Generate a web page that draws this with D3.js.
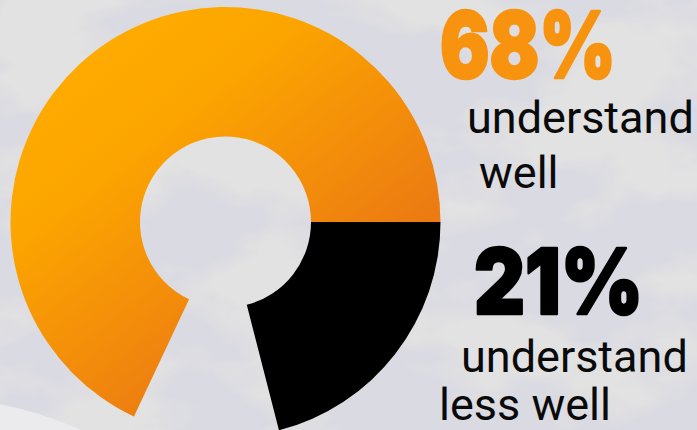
<!DOCTYPE html>
<html>
<head>
<meta charset="utf-8">
<script src="https://cdn.jsdelivr.net/npm/d3@7"></script>
<style>
  html, body { margin: 0; padding: 0; background: #dcdce2; }
  svg { display: block; }
</style>
</head>
<body>
<svg id="chart" width="697" height="430"></svg>
<script>
// Share of respondents by how well they understand the topic
const categories = ["understand less well", "no answer", "understand well"];
const shares = [21, 11, 68];
const labels = ["68%", "21%"];
const captions = [["understand", "well"], ["understand", "less well"]];

const W = 697, H = 430;
const svg = d3.select("#chart");
const defs = svg.append("defs");

// concrete-like backdrop: soft grey blotches from fractal noise
const tex = defs.append("filter").attr("id", "concrete")
  .attr("filterUnits", "userSpaceOnUse")
  .attr("x", 0).attr("y", 0).attr("width", W).attr("height", H);
tex.append("feTurbulence").attr("type", "fractalNoise")
  .attr("baseFrequency", "0.006 0.010").attr("numOctaves", 5).attr("seed", 11).attr("result", "n");
tex.append("feColorMatrix").attr("in", "n").attr("type", "matrix")
  .attr("values", "0 0 0 0 0.76  0 0 0 0 0.76  0 0 0 0 0.76  6 0 0 0 -2.75");

svg.append("rect").attr("width", W).attr("height", H).attr("fill", "#dadae2");
svg.append("rect").attr("width", W).attr("height", H).attr("fill", "#000")
  .attr("filter", "url(#concrete)");
// pale disc in the lower-left corner
svg.append("circle").attr("cx", -66).attr("cy", 750).attr("r", 352)
  .attr("fill", "#ebebee");

// orange gradient across the ring (coordinates in the ring's local frame)
const cx = 225.5, cy = 222, rOuter = 215, rInner = 85.5;
const grad = defs.append("linearGradient").attr("id", "orangeGrad")
  .attr("gradientUnits", "userSpaceOnUse")
  .attr("x1", 40 - cx).attr("y1", 20 - cy).attr("x2", 282 - cx).attr("y2", 328 - cy);
grad.append("stop").attr("offset", 0).attr("stop-color", "#ffae00");
grad.append("stop").attr("offset", 0.4).attr("stop-color", "#fca500");
grad.append("stop").attr("offset", 1).attr("stop-color", "#ec7b12");

const fills = ["#000000", "none", "url(#orangeGrad)"];

const pie = d3.pie().sort(null).value(d => d)
  .startAngle(Math.PI / 2).endAngle(Math.PI / 2 + 2 * Math.PI);
const arc = d3.arc().innerRadius(rInner).outerRadius(rOuter);

svg.append("g").attr("transform", `translate(${cx},${cy})`)
  .selectAll("path").data(pie(shares)).join("path")
  .attr("d", arc)
  .attr("fill", (d, i) => fills[i]);

// value labels and captions
const big = svg.append("g").attr("font-family", "Inter, sans-serif").attr("font-weight", 900)
  .attr("stroke-width", 2.5).attr("stroke-linejoin", "round");
big.append("text").attr("x", 440).attr("y", 78).attr("font-size", 92)
  .attr("fill", "#f7930f").attr("stroke", "#f7930f")
  .attr("textLength", 176).attr("lengthAdjust", "spacingAndGlyphs")
  .text(labels[0]);
big.append("text").attr("x", 474).attr("y", 314).attr("font-size", 91)
  .attr("fill", "#000").attr("stroke", "#000")
  .attr("textLength", 169).attr("lengthAdjust", "spacingAndGlyphs")
  .text(labels[1]);

const small = svg.append("g").attr("font-family", "Roboto, sans-serif").attr("font-size", 45)
  .attr("fill", "#0a0a0a");
small.append("text").attr("x", 467).attr("y", 133).text(captions[0][0]);
small.append("text").attr("x", 479).attr("y", 188).text(captions[0][1]);
small.append("text").attr("x", 461).attr("y", 372).text(captions[1][0]);
small.append("text").attr("x", 439).attr("y", 420).text(captions[1][1]);
</script>
</body>
</html>
